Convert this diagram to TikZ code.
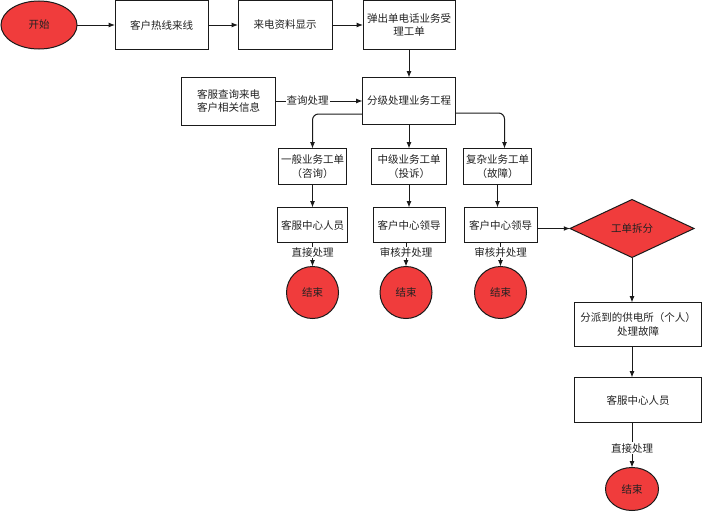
\documentclass[tikz,border=0pt]{standalone}
\usepackage{fontspec}
\setmainfont{Noto Sans CJK SC}
\definecolor{FlowRed}{HTML}{F03C3C}
\definecolor{FlowLine}{HTML}{1A1A1A}
\definecolor{FlowText}{HTML}{222222}
\usetikzlibrary{arrows.meta,positioning,shapes.geometric}
\tikzset{
  box/.style={draw=FlowLine, align=center, fill=white, line width=1pt, inner sep=1pt, outer sep=0pt, text=FlowText, font=\fontsize{10.5}{13.5}\selectfont},
  term/.style={draw=FlowLine, fill=FlowRed, line width=1pt, inner sep=0pt, outer sep=0pt, text=FlowText, font=\fontsize{10.5}{13.5}\selectfont},
  decide/.style={draw=FlowLine, diamond, aspect=2.1, fill=FlowRed, line width=1pt, inner sep=0pt, outer sep=0pt, minimum width=124pt, minimum height=58pt, text=FlowText, font=\fontsize{10.5}{13.5}\selectfont},
  arrow/.style={-{Latex[length=2.2mm,width=1.7mm]}, line width=1pt, FlowLine},
  label/.style={fill=white, inner sep=1pt, text=FlowText, font=\fontsize{10.5}{13.5}\selectfont}
}
\begin{document}
\begin{tikzpicture}[node distance=30pt]
    \useasboundingbox (0,0) rectangle (703pt,-514pt);
    \node[term, ellipse, minimum width=76pt, minimum height=48pt] (start) at (39pt,-25pt) {开始};
    \node[box, right=38pt of start, minimum width=93pt, minimum height=49pt] (hotline) {客户热线来线};
    \node[box, right=30pt of hotline, minimum width=94pt, minimum height=49pt] (info) {来电资料显示};
    \node[box, right=31pt of info, minimum width=92pt, minimum height=49pt] (ticket) {弹出单电话业务受\\理工单};
    \node[box, below=28pt of ticket, minimum width=93pt, minimum height=47pt] (grade) {分级处理业务工程};
    \node[box, left=87pt of grade, minimum width=94pt, minimum height=48pt] (query) {客服查询来电\\客户相关信息};

    \node[box, below=24pt of grade, minimum width=75pt, minimum height=36pt] (middle) {中级业务工单\\（投诉）};
    \node[box, left=25pt of middle, minimum width=68pt, minimum height=36pt] (general) {一般业务工单\\（咨询）};
    \node[box, right=17pt of middle, minimum width=68pt, minimum height=36pt] (complex) {复杂业务工单\\（故障）};

    \node[box, below=23pt of general, minimum width=70pt, minimum height=35pt] (staffA) {客服中心人员};
    \node[box, below=23pt of middle, minimum width=72pt, minimum height=35pt] (leadA) {客户中心领导};
    \node[box, below=23pt of complex, xshift=3pt, minimum width=73pt, minimum height=35pt] (leadB) {客户中心领导};

    \node[term, circle, below=24pt of staffA, minimum size=52pt] (endA) {结束};
    \node[term, circle, below=24pt of leadA, xshift=-3pt, minimum size=52pt] (endB) {结束};
    \node[term, circle, below=24pt of leadB, minimum size=52pt] (endC) {结束};

    \node[decide, right=33pt of leadB, yshift=-3.5pt] (split) {工单拆分};
    \node[box, below=45pt of split, xshift=6pt, minimum width=127pt, minimum height=44pt] (dispatch) {分派到的供电所（个人）\\处理故障};
    \node[box, below=31pt of dispatch, minimum width=127pt, minimum height=45pt] (staffB) {客服中心人员};
    \node[term, ellipse, below=45pt of staffB, xshift=-6pt, minimum width=53pt, minimum height=43pt] (endD) {结束};

    \draw[arrow] (start) -- (hotline);
    \draw[arrow] (hotline) -- (info);
    \draw[arrow] (info) -- (ticket);
    \draw[arrow] (ticket) -- (grade);
    \draw[arrow] (query) -- node[label, pos=0.37] {查询处理} (grade);

    \draw[arrow, rounded corners=6pt] ([yshift=-13pt]grade.west) -| (general.north);
    \draw[arrow] (grade.south -| middle.north) -- (middle.north);
    \draw[arrow, rounded corners=6pt] ([yshift=-12pt]grade.east) -| ([xshift=7pt]complex.north);

    \draw[arrow] (general) -- (staffA);
    \draw[arrow] (middle) -- (middle |- leadA.north);
    \draw[arrow] (complex) -- (complex |- leadB.north);

    \draw[arrow] (staffA) -- node[label, pos=0.42] {直接处理} (endA);
    \draw[arrow] (leadA.south -| endB) -- node[label, pos=0.42] {审核并处理} (endB);
    \draw[arrow] (leadB.south -| endC) -- node[label, pos=0.42] {审核并处理} (endC);

    \draw[arrow] (split.west -| leadB.east) -- (split.west);
    \draw[arrow] (split) -- (split |- dispatch.north);
    \draw[arrow] (dispatch.south -| endD) -- (staffB.north -| endD);
    \draw[arrow] (staffB.south -| endD) -- node[label, pos=0.57] {直接处理} (endD);
  \end{tikzpicture}
\end{document}
